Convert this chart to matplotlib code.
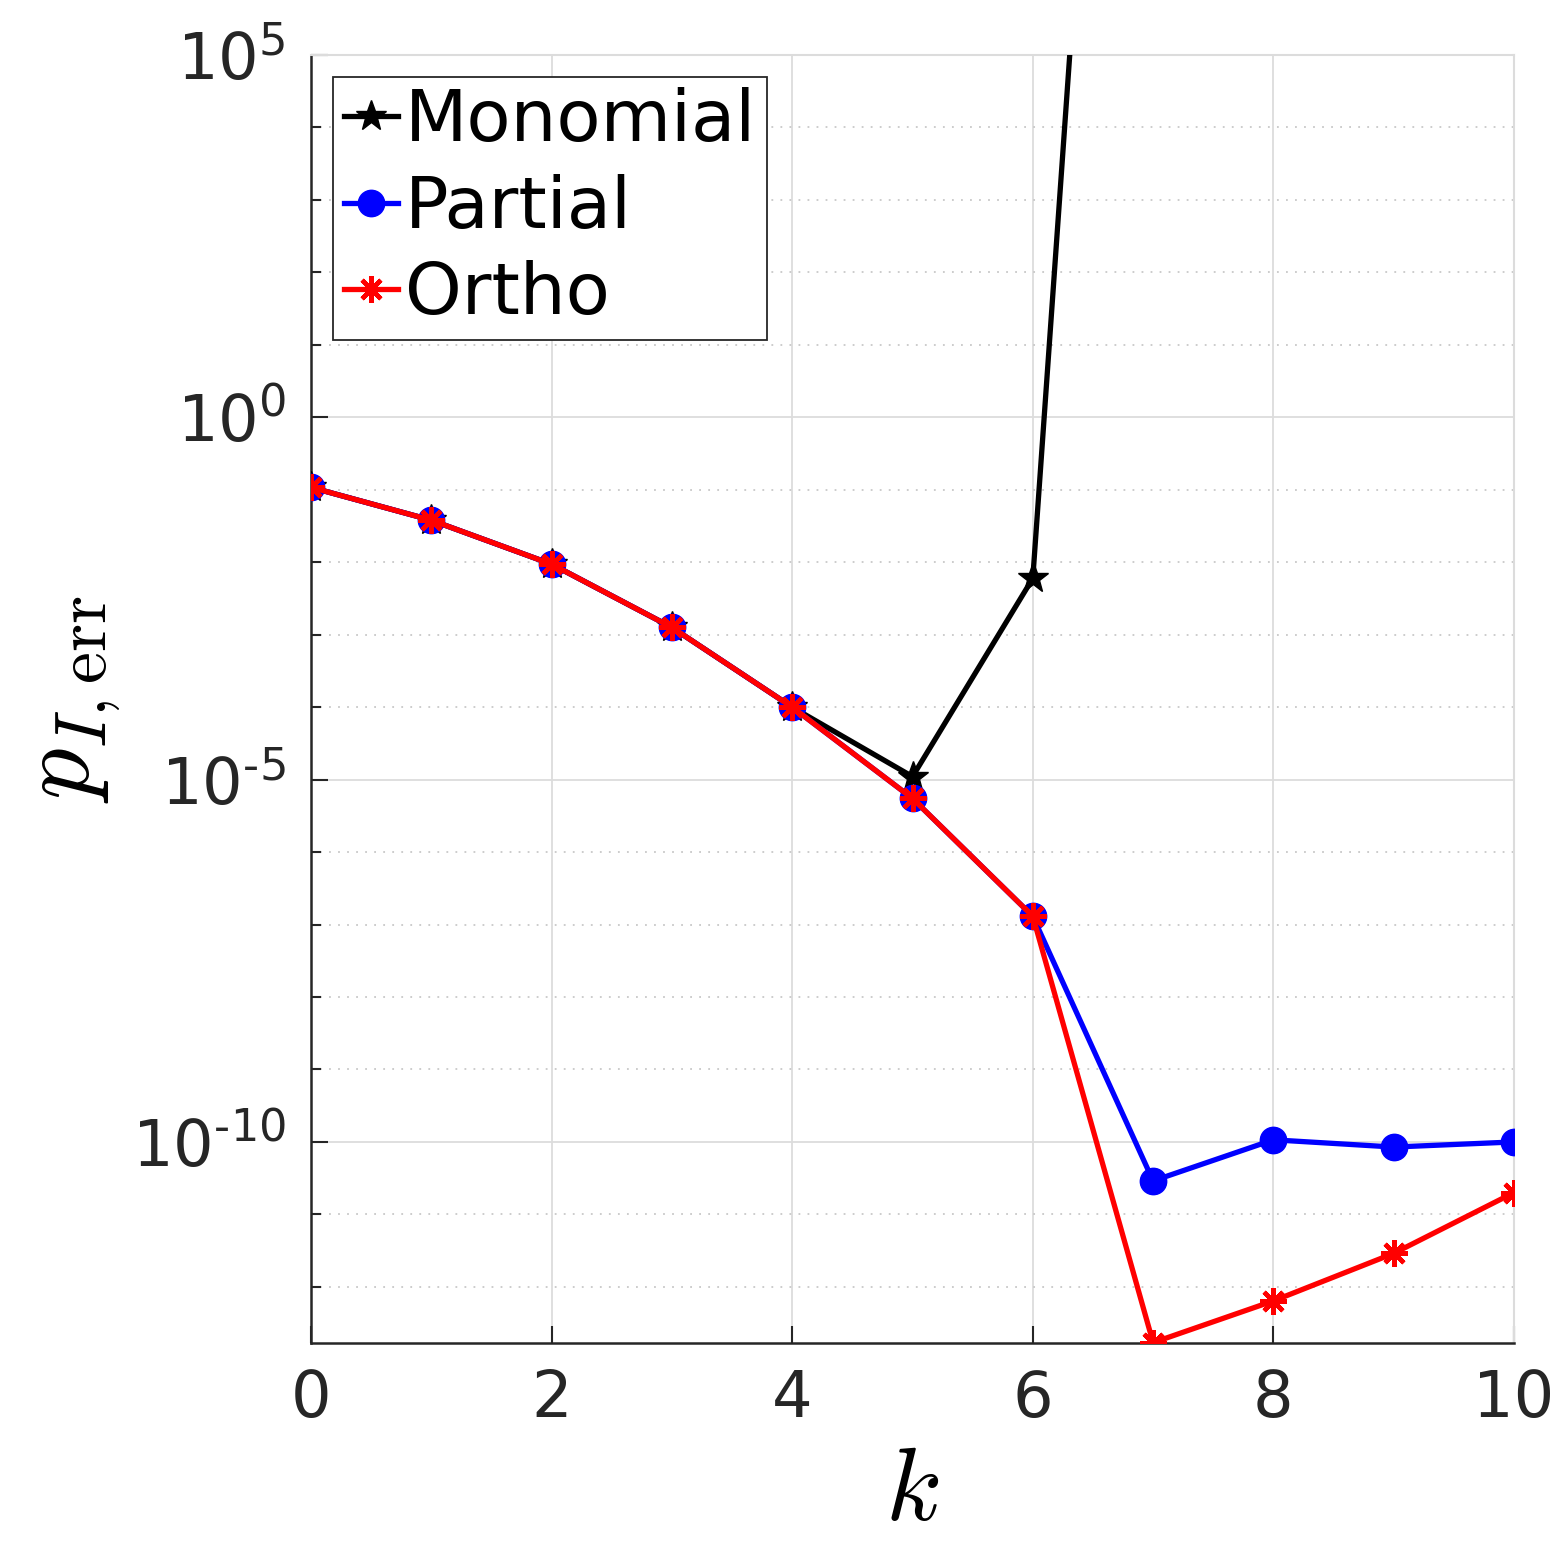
import numpy as np
import matplotlib.pyplot as plt
from matplotlib.ticker import FixedLocator, NullFormatter

# значения
k = [0, 1, 2, 3, 4, 5, 6, 7, 8, 9, 10]
monomial = [0.108, 0.038, 0.0094, 1.26e-3, 1.0e-4, 1.1e-5, 6.0e-3, 2e21, 1e26, 1e30, 1e33]
partial = [0.108, 0.038, 0.0094, 1.26e-3, 1.0e-4, 5.5e-6, 1.3e-7, 2.9e-11, 1.07e-10, 8.5e-11, 1.0e-10]
ortho = [0.108, 0.038, 0.0094, 1.26e-3, 1.0e-4, 5.5e-6, 1.3e-7, 1.7e-13, 6.4e-13, 2.9e-12, 2.0e-11]

x_ticks = [0, 2, 4, 6, 8, 10]
y_major = [1e-10, 1e-5, 1e0, 1e5]
y_labels = [r'$10^{\text{-}10}$', r'$10^{\text{-}5}$', '$10^{0}$', '$10^{5}$']

plt.rcParams['font.family'] = 'DejaVu Sans'
plt.rcParams['mathtext.fontset'] = 'dejavusans'

fig = plt.figure(figsize=(15.63, 15.63), dpi=100)
ax = fig.add_axes([311 / 1563, 1 - 1343 / 1563, (1514 - 311) / 1563, (1343 - 55) / 1563])

asterisk = (8, 2, 0)
ax.plot(k, monomial, '-', color='black', lw=3.8, marker='*', ms=23, label='Monomial', zorder=3)
ax.plot(k, partial, '-', color='blue', lw=3.8, marker='o', ms=19, label='Partial', zorder=4)
ax.plot(k, ortho, '-', color='red', lw=3.8, marker=asterisk, ms=19, mew=3.2, label='Ortho', zorder=5)

ax.set_yscale('log')
ax.set_xlim(0, 10)
ax.set_ylim(1.68e-13, 1e5)

ax.xaxis.set_major_locator(FixedLocator(x_ticks))
ax.yaxis.set_major_locator(FixedLocator(y_major))
ax.set_yticklabels(y_labels)
minor = [10.0 ** e for e in range(-12, 5) if e % 5 != 0]
ax.yaxis.set_minor_locator(FixedLocator(minor))
ax.yaxis.set_minor_formatter(NullFormatter())
ax.xaxis.set_minor_locator(FixedLocator([]))

ax.grid(True, which='major', color='#dcdcdc', lw=1.3, ls='-')
ax.grid(True, which='minor', axis='y', color='#c8c8c8', lw=1.3, ls=(0, (1, 4)))
ax.set_axisbelow(True)

for s in ['left', 'bottom']:
    ax.spines[s].set_color('#262626')
    ax.spines[s].set_linewidth(1.8)
for s in ['top', 'right']:
    ax.spines[s].set_color('#dcdcdc')
    ax.spines[s].set_linewidth(1.5)

ax.tick_params(which='both', direction='in', top=False, right=False, color='#262626',
               width=1.5, labelsize=46, labelcolor='#262626', pad=18)
ax.tick_params(which='major', length=12)
ax.tick_params(which='minor', length=7)

ax.set_xlabel('$k$', fontsize=74, math_fontfamily='cm', labelpad=8)
ax.set_ylabel(r'$p_{I,\mathrm{err}}$', fontsize=74, math_fontfamily='cm')
ax.yaxis.set_label_coords(-0.157, 0.5)

leg = ax.legend(loc='upper left', fontsize=52, handlelength=0.75, handletextpad=0.1,
                labelspacing=0.24, borderpad=0.15, borderaxespad=0.3, fancybox=False,
                framealpha=1, edgecolor='#262626')
leg.get_frame().set_linewidth(1.3)

fig.savefig('out.png', dpi=100)
